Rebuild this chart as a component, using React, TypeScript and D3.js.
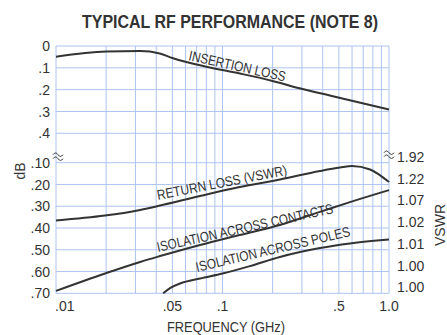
import * as d3 from "d3";

const W = 447;
const H = 335;

// axis ticks
const freqTicks = [0.01, 0.05, 0.1, 0.5, 1.0];
const freqLabels = [".01", ".05", ".1", ".5", "1.0"];
const insTicks = [0, 0.1, 0.2, 0.3, 0.4];
const insLabels = ["0", ".1", ".2", ".3", ".4"];
const lossTicks = [0.1, 0.2, 0.3, 0.4, 0.5, 0.6, 0.7];
const lossLabels = [".10", ".20", ".30", ".40", ".50", ".60", ".70"];
const vswrLabels = ["1.92", "1.22", "1.07", "1.02", "1.01", "1.00", "1.00"];

// insertion loss (dB, upper scale)
const insFreq = [0.01, 0.02, 0.032, 0.042, 0.05, 0.08, 0.127, 0.2, 0.29, 0.46, 1.0];
const insLoss = [0.049, 0.025, 0.023, 0.034, 0.055, 0.095, 0.126, 0.16, 0.194, 0.23, 0.291];

// return loss (dB, lower scale)
const retFreq = [0.01, 0.0197, 0.032, 0.0422, 0.0733, 0.127, 0.221, 0.385, 0.508, 0.6, 0.77, 1.0];
const retLoss = [0.365, 0.343, 0.317, 0.297, 0.253, 0.212, 0.177, 0.138, 0.122, 0.115, 0.131, 0.189];

// isolation across contacts
const conFreq = [0.01, 0.0197, 0.032, 0.0422, 0.0733, 0.127, 0.221, 0.385, 0.583, 1.0];
const conLoss = [0.689, 0.609, 0.556, 0.529, 0.478, 0.432, 0.386, 0.326, 0.281, 0.226];

// isolation across poles
const polFreq = [0.044, 0.0484, 0.0556, 0.0733, 0.1, 0.146, 0.221, 0.385, 0.583, 1.0];
const polLoss = [0.7, 0.676, 0.655, 0.632, 0.609, 0.575, 0.533, 0.492, 0.471, 0.453];

const FONT = "'Liberation Sans', Arial, sans-serif";
const GRID = "#aec4f0";
const INK = "#333";

const x = d3.scaleLog().domain([0.01, 1]).range([56, 389]);
const yTop = d3.scaleLinear().domain([0, 0.4]).range([46, 133.3]);
const yBot = d3.scaleLinear().domain([0.1, 0.7]).range([162.7, 293.3]);

const lineTop = d3
  .line<[number, number]>()
  .x((d) => x(d[0]))
  .y((d) => yTop(d[1]))
  .curve(d3.curveMonotoneX);
const lineBot = d3
  .line<[number, number]>()
  .x((d) => x(d[0]))
  .y((d) => yBot(d[1]))
  .curve(d3.curveMonotoneX);

const zip = (a: number[], b: number[]) => a.map((v, i) => [v, b[i]] as [number, number]);

function Squiggle({ cx, cy }: { cx: number; cy: number }) {
  const w = (dy: number) => `M${cx - 5},${cy + dy + 1} q2.5,-3.5 5,0 t5,0`;
  return (
    <g fill="none" stroke={INK} strokeWidth={1}>
      <path d={w(-2)} />
      <path d={w(2)} />
    </g>
  );
}

function CurveLabel(props: { f: number; v: number; top?: boolean; angle: number; len: number; text: string }) {
  const px = x(props.f);
  const py = props.top ? yTop(props.v) : yBot(props.v);
  return (
    <text
      transform={`translate(${px},${py}) rotate(${props.angle})`}
      fontSize={14}
      fill={INK}
      textLength={props.len}
      lengthAdjust="spacingAndGlyphs"
    >
      {props.text}
    </text>
  );
}

export default function App() {
  const vlines = x.ticks();
  return (
    <svg
      width={W}
      height={H}
      style={{ position: "absolute", left: 0, top: 0, background: "#fff" }}
      fontFamily={FONT}
    >
      <text
        x={230}
        y={28}
        textAnchor="middle"
        fontSize={18}
        fontWeight="bold"
        fill="#333"
        textLength={296}
        lengthAdjust="spacingAndGlyphs"
      >
        TYPICAL RF PERFORMANCE (NOTE 8)
      </text>

      {/* grid */}
      <g stroke={GRID} strokeWidth={1}>
        {vlines.map((t, i) => (
          <line key={"v" + i} x1={x(t)} x2={x(t)} y1={yTop(0)} y2={yBot(0.7)} />
        ))}
        {insTicks.map((t, i) => (
          <line key={"t" + i} x1={x(0.01)} x2={x(1)} y1={yTop(t)} y2={yTop(t)} />
        ))}
        {lossTicks.map((t, i) => (
          <line key={"b" + i} x1={x(0.01)} x2={x(1)} y1={yBot(t)} y2={yBot(t)} />
        ))}
      </g>

      {/* curves */}
      <g fill="none" stroke={INK} strokeWidth={2}>
        <path d={lineTop(zip(insFreq, insLoss)) ?? ""} />
        <path d={lineBot(zip(retFreq, retLoss)) ?? ""} />
        <path d={lineBot(zip(conFreq, conLoss)) ?? ""} />
        <path d={lineBot(zip(polFreq, polLoss)) ?? ""} />
      </g>

      <CurveLabel f={0.062} v={0.064} top angle={12.6} len={99} text="INSERTION LOSS" />
      <CurveLabel f={0.041} v={0.271} angle={-11} len={132} text="RETURN LOSS (VSWR)" />
      <CurveLabel f={0.041} v={0.51} angle={-12.5} len={180} text="ISOLATION ACROSS CONTACTS" />
      <CurveLabel f={0.0703} v={0.602} angle={-13.2} len={158} text="ISOLATION ACROSS POLES" />

      {/* axis breaks */}
      <Squiggle cx={x(0.01) + 2} cy={yBot(0.1) - 7} />
      <Squiggle cx={x(1)} cy={yBot(0.1) - 9} />

      {/* left labels */}
      <g fontSize={14} fill={INK} textAnchor="end">
        {insTicks.map((t, i) => (
          <text key={"tl" + i} x={50} y={yTop(t)} dy="0.36em">
            {insLabels[i]}
          </text>
        ))}
        {lossTicks.map((t, i) => (
          <text key={"bl" + i} x={50} y={yBot(t)} dy="0.36em">
            {lossLabels[i]}
          </text>
        ))}
      </g>

      {/* right labels */}
      <g fontSize={14} fill={INK} textAnchor="start">
        {lossTicks.map((t, i) => (
          <text key={"rl" + i} x={397} y={yBot(t) - 6} dy="0.36em">
            {vswrLabels[i]}
          </text>
        ))}
      </g>

      {/* x labels */}
      <g fontSize={14} fill={INK}>
        {freqTicks.map((t, i) => (
          <text key={"xl" + i} x={i === 0 ? x(t) - 1 : x(t)} y={311} textAnchor={i === 0 ? "start" : "middle"}>
            {freqLabels[i]}
          </text>
        ))}
      </g>

      <text x={226} y={332} textAnchor="middle" fontSize={14} fill={INK} textLength={118} lengthAdjust="spacingAndGlyphs">
        FREQUENCY (GHz)
      </text>
      <text transform="translate(20,171) rotate(-90)" textAnchor="middle" dy="0.36em" fontSize={14} fill={INK}>
        dB
      </text>
      <text transform="translate(440,225) rotate(-90)" textAnchor="middle" dy="0.36em" fontSize={14} fill={INK}>
        VSWR
      </text>
    </svg>
  );
}
